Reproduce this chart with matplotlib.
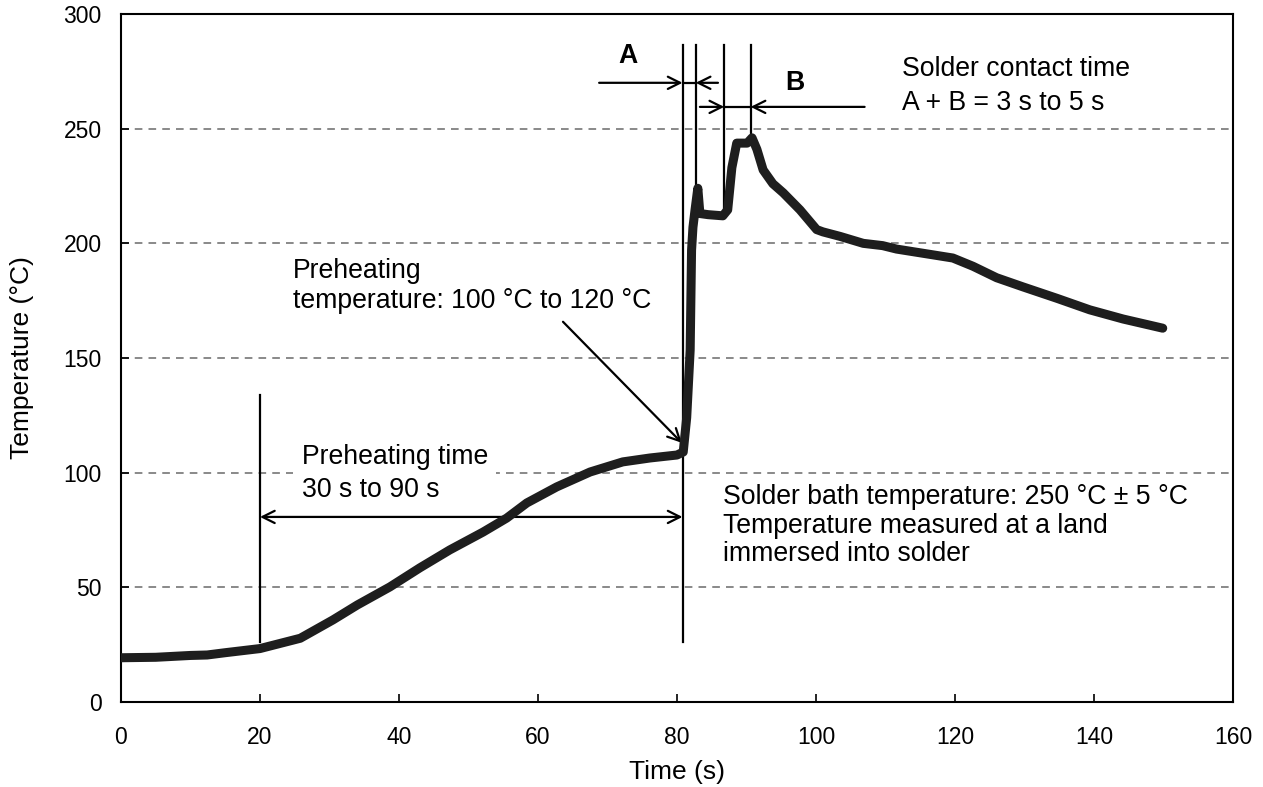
import matplotlib
matplotlib.use("Agg")
import matplotlib.pyplot as plt

plt.rcParams["font.family"] = ["Liberation Sans", "DejaVu Sans"]

# measured temperature profile
time_s = [0, 5, 10, 12.4, 15, 20, 25.8, 30.5, 34, 38.7, 43, 47.3, 52.1, 55.5,
          58.4, 62.7, 67.5, 72.2, 76.1, 80, 80.9, 81.4, 81.9, 82.1, 82.3, 82.6,
          83.0, 83.3, 84.5, 86.6, 87.3, 87.9, 88.6, 90.1, 90.8, 91.5, 92.4,
          93.8, 95.3, 97.7, 100.1, 101, 103.5, 106.8, 109.6, 111.6, 116.8,
          119.7, 122.6, 126, 129.8, 134.7, 139.4, 144.2, 149.9]
temp_c = [19.3, 19.5, 20.3, 20.5, 21.5, 23.3, 27.8, 35.8, 42.3, 50.2, 58.5,
          66.3, 74.1, 80.2, 86.8, 93.8, 100.3, 104.7, 106.4, 107.7, 109, 124,
          153.5, 197, 207, 214.6, 224, 213, 212.5, 212, 214.6, 233, 243.7,
          243.7, 246, 241, 232, 226, 222, 214.6, 206, 205, 203, 200, 199,
          197.5, 195, 193.6, 190, 185, 181, 176, 171, 167, 163]

x_ticks = [0, 20, 40, 60, 80, 100, 120, 140, 160]
y_ticks = [0, 50, 100, 150, 200, 250, 300]

# marker lines: (x, y_bottom, y_top)
markers = [(20, 26, 134), (80.8, 26, 286.5), (82.7, 224, 286.5),
           (86.8, 212, 286.5), (90.6, 246, 286.5)]

fig = plt.figure(figsize=(12.63, 7.87), dpi=100)
ax = fig.add_axes([0.0958, 0.108, 0.8804, 0.8742])

ax.set_xlim(0, 160)
ax.set_ylim(0, 300)
ax.set_xticks(x_ticks)
ax.set_yticks(y_ticks)
ax.tick_params(direction="in", length=6, width=1.2, labelsize=16.5)
ax.tick_params(axis="x", pad=17)
ax.tick_params(axis="y", pad=14)
ax.grid(axis="y", linestyle=(0, (5, 4)), color="#6a6a6a", linewidth=1.1)
ax.set_axisbelow(True)
for sp in ax.spines.values():
    sp.set_linewidth(1.5)

ax.set_xlabel("Time (s)", fontsize=19)
ax.set_ylabel("Temperature (°C)", fontsize=19)
ax.xaxis.set_label_coords(0.5, -0.084)
ax.yaxis.set_label_coords(-0.078, 0.5)

ax.plot(time_s, temp_c, color="#1e1e1e", linewidth=6.5,
        solid_capstyle="round", solid_joinstyle="round", zorder=4)

for x, y0, y1 in markers:
    ax.plot([x, x], [y0, y1], color="black", linewidth=1.6, zorder=3)

arr = dict(arrowstyle="->", color="black", lw=1.6, mutation_scale=22,
           shrinkA=0, shrinkB=0)
# preheating time span
ax.annotate("", xy=(20, 80.7), xytext=(80.8, 80.7),
            arrowprops=dict(arr, arrowstyle="<->"))
# A span
ax.annotate("", xy=(80.8, 270), xytext=(68.8, 270), arrowprops=arr)
ax.annotate("", xy=(82.7, 270), xytext=(85.9, 270), arrowprops=arr)
ax.plot([80.8, 82.7], [270, 270], color="black", linewidth=1.6)
# B span
ax.annotate("", xy=(86.8, 259.5), xytext=(83.3, 259.5), arrowprops=arr)
ax.annotate("", xy=(90.6, 259.5), xytext=(107.0, 259.5), arrowprops=arr)
ax.plot([86.8, 90.6], [259.5, 259.5], color="black", linewidth=1.6)
# preheating temperature pointer
ax.annotate("", xy=(80.7, 113), xytext=(63.6, 165.8), arrowprops=arr)

# multi-line texts are anchored on the baseline of their last line
fs = 19.2
ax.text(72.9, 281.8, "A", fontsize=fs, fontweight="bold", ha="center",
        va="center")
ax.text(97.0, 270, "B", fontsize=fs, fontweight="bold", ha="center",
        va="center")
ax.text(24.7, 171.8, "Preheating\ntemperature: 100 °C to 120 °C",
        fontsize=fs, va="baseline", linespacing=1.22)
ax.text(26.0, 89.4, "Preheating time\n30 s to 90 s", fontsize=fs,
        va="baseline", linespacing=1.36,
        bbox=dict(facecolor="white", edgecolor="none", pad=6))
ax.text(112.4, 258.2, "Solder contact time\nA + B = 3 s to 5 s",
        fontsize=fs, va="baseline", linespacing=1.4)
ax.text(86.6, 61.5, "Solder bath temperature: 250 °C ± 5 °C\n"
        "Temperature measured at a land\nimmersed into solder",
        fontsize=fs, va="baseline", linespacing=1.12)

fig.savefig("out.png", dpi=100)
